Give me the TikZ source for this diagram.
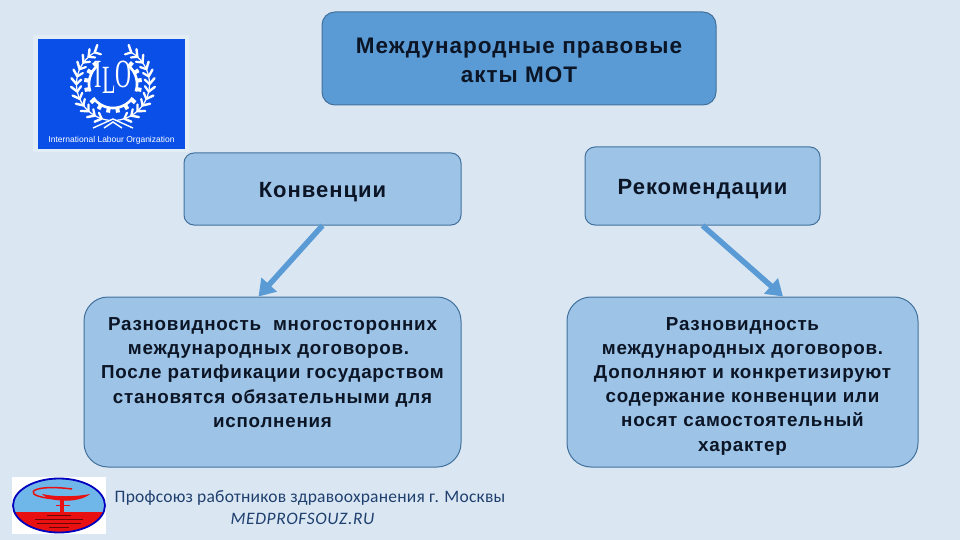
\documentclass[tikz,border=0pt]{standalone}
\usepackage{fontspec}
\setmainfont{Liberation Sans}
\newfontfamily\bodyfont[LetterSpace=4]{Liberation Sans}
\newfontfamily\headfont[LetterSpace=4.5]{Liberation Sans}
\newfontfamily\footfont[LetterSpace=1.2]{Carlito}
\newfontfamily\sitefont[LetterSpace=3.5]{Carlito}
\newfontfamily\logofont{Liberation Serif}
\newcommand\lowerby[2]{\raisebox{-#1}[\height][\depth]{#2}}
\usetikzlibrary{arrows.meta,calc}
\definecolor{bgcol}{HTML}{DAE7F3}
\definecolor{topfill}{HTML}{5B9BD5}
\definecolor{midfill}{HTML}{9DC3E6}
\definecolor{edgecol}{HTML}{41719C}
\definecolor{inkcol}{HTML}{0B1526}
\definecolor{ilo}{HTML}{0A50E8}
\definecolor{footcol}{HTML}{1F3F6E}
\definecolor{skycol}{HTML}{6FB7E8}
\definecolor{redcol}{HTML}{E81010}
\tikzset{
  boxbase/.style={draw=edgecol,line width=1pt,align=center,text=inkcol,inner sep=0pt},
  titlebox/.style={boxbase,fill=topfill,rounded corners=13pt,minimum width=394pt,minimum height=93pt,font=\headfont\fontsize{22.5}{29}\selectfont\bfseries},
  kindbox/.style={boxbase,fill=midfill,rounded corners=10pt,font=\headfont\fontsize{22}{25}\selectfont\bfseries},
  textbox/.style={boxbase,fill=midfill,rounded corners=24pt,font=\bodyfont\fontsize{18.8}{24.2}\selectfont\bfseries},
  flow/.style={draw=topfill,line width=5.5pt,-{Triangle[length=16pt,width=20pt]}},
  foottext/.style={text=footcol,inner sep=0pt,align=center}
}
\begin{document}
\begin{tikzpicture}[x=1pt,y=-1pt]
\useasboundingbox (0,0) rectangle (960,540);
\fill[bgcol] (0,0) rectangle (960,540);

% ILO logo
\fill[white!25!bgcol] (33,35) rectangle (189,152);
\fill[ilo] (38,39) rectangle (185,149);
\foreach \s in {1,-1}{
  \begin{scope}[xshift=113pt,yshift=-84pt,xscale=\s]
    \draw[white,line width=1.2pt] plot[domain=-62:84,samples=30] ({36.5*cos(\x)},{36.5*sin(\x)});
    \foreach \a in {-60,-48,...,80}{
      \draw[white,line width=2.4pt,line cap=round] ({36.5*cos(\a)},{36.5*sin(\a)}) -- ({42*cos(\a-8)},{42*sin(\a-8)});
      \draw[white,line width=2.2pt,line cap=round] ({36.5*cos(\a)},{36.5*sin(\a)}) -- ({32*cos(\a-8)},{32*sin(\a-8)});
    }
    % gear ring
    \draw[white,line width=2.6pt] plot[domain=-50:18,samples=20] ({24*cos(\x)},{24*sin(\x)});
    \foreach \a in {-48,-28,-8,12}{
      \draw[white,line width=4pt] ({24*cos(\a)},{24*sin(\a)}) -- ({29*cos(\a)},{29*sin(\a)});
    }
    \draw[white,line width=2.6pt] plot[domain=35:90,samples=20] ({24*cos(\x)},{24*sin(\x)});
    \foreach \a in {40,60,80}{
      \draw[white,line width=4pt] ({24*cos(\a)},{24*sin(\a)}) -- ({29*cos(\a)},{29*sin(\a)});
    }
  \end{scope}
}
\node[text=white,inner sep=0pt,xscale=.55] (ilotxt) at (113,77) {\logofont\fontsize{40}{40}\selectfont I\raisebox{-6pt}{L}O};
\draw[white,line width=1.4pt] (93,128) -- (113,119) -- (133,128);
\draw[white,line width=1.4pt] (104,128) -- (113,122) -- (122,128);
\node[text=white,inner sep=0pt] (ilocap) at (111.5,140.5) {\fontsize{8.5}{10}\selectfont International Labour Organization};

% Union logo
\fill[white] (12,477) rectangle (106,534);
\begin{scope}
  \clip (59,505.5) ellipse (46pt and 27pt);
  \fill[skycol] (12,477) rectangle (106,512);
  \fill[redcol] (12,512) rectangle (106,534);
\end{scope}
\draw[blue!75!black,line width=1.8pt] (59,505.5) ellipse (46pt and 27pt);
\draw[redcol,line width=1.5pt] (72,489) .. controls (25,483) and (20,498) .. (60,499);
\fill[redcol] (42,494) .. controls (55,497) and (75,497) .. (90,494) .. controls (80,503) and (50,503) .. (42,494);
\fill[redcol] (60,500) rectangle (64,513);
\draw[redcol,line width=1pt] (56,505) -- (70,505);
\foreach \yy/\w in {515/12,519/24,523/22,527/10}{
  \draw[black!55!redcol,line width=.9pt] ({59-\w},\yy) -- ({59+\w},\yy);
}

% Boxes
\node[titlebox] (title) at (519,58.5) {\lowerby{2pt}{Международные правовые}\\\lowerby{2pt}{акты МОТ}};
\node[kindbox,minimum width=277pt,minimum height=72pt] (konv) at (322.5,189) {\lowerby{3pt}{Конвенции}};
\node[kindbox,minimum width=235pt,minimum height=78pt] (rek) at (702.5,186) {\lowerby{3pt}{Рекомендации}};
\node[textbox,minimum width=377pt,minimum height=170pt] (left) at (272.5,382) {%
  \lowerby{2pt}{Разновидность \ многосторонних}\\
  \lowerby{2pt}{международных договоров.\hspace*{8pt}}\\
  \lowerby{2pt}{После ратификации государством}\\
  \lowerby{2pt}{становятся обязательными для}\\
  \lowerby{2pt}{исполнения}\\[-1pt]\mbox{}};
\node[textbox,minimum width=351pt,minimum height=170pt] (right) at (742.5,382) {%
  \lowerby{4pt}{Разновидность}\\
  \lowerby{4pt}{международных договоров.}\\
  \lowerby{4pt}{Дополняют и конкретизируют}\\
  \lowerby{4pt}{содержание конвенции или}\\
  \lowerby{4pt}{носят самостоятельный}\\
  \lowerby{4pt}{характер}};

% Connectors
\draw[flow] (konv.south) -- ([xshift=-14pt]left.north);
\draw[flow] (rek.south) -- ([xshift=40.5pt]right.north);

% Footer
\node[foottext,font=\footfont\fontsize{17.5}{20}\selectfont] (foot1) at (310,498) {Профсоюз работников здравоохранения г. Москвы};
\node[foottext,font=\sitefont\fontsize{17.5}{20}\selectfont\itshape] (foot2) at (302.5,519) {MEDPROFSOUZ.RU};
\end{tikzpicture}
\end{document}
